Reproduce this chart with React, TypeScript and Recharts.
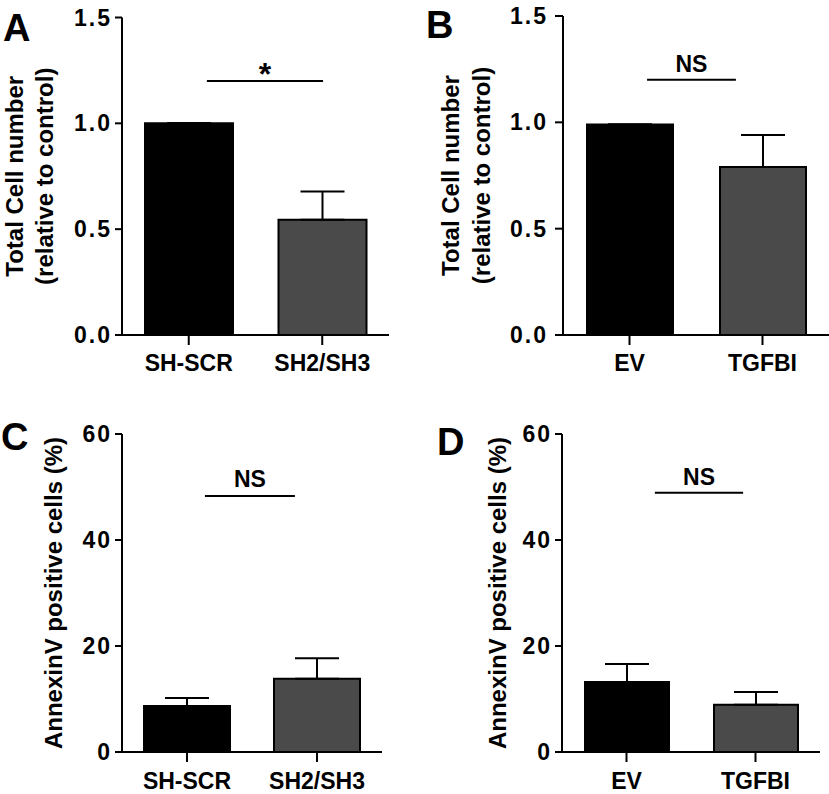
import React from "react";
import { BarChart, Bar, XAxis, YAxis, ErrorBar, Cell, ReferenceLine } from "recharts";

const FONT = '"Liberation Sans", Arial, Helvetica, sans-serif';

// categories
const knockdownGroups = ["SH-SCR", "SH2/SH3"];
const overexpGroups = ["EV", "TGFBI"];

// total cell number (relative to control), mean and upper error
const cellKnockdown = [1.0, 0.545];
const cellKnockdownErr = [0, 0.133];
const cellOverexp = [0.99, 0.79];
const cellOverexpErr = [0, 0.15];

// annexinV positive cells (%)
const annexinKnockdown = [8.7, 13.8];
const annexinKnockdownErr = [1.5, 3.9];
const annexinOverexp = [13.2, 8.9];
const annexinOverexpErr = [3.4, 2.4];

// y ticks
const cellTicks = [0, 0.5, 1.0, 1.5];
const annexinTicks = [0, 20, 40, 60];

const barColors = ["#000000", "#4a4a4a"];

const axisStroke = { stroke: "#000", strokeWidth: 2 };
const tickText = { fill: "#000", fontSize: 23, fontWeight: 700, fontFamily: FONT };

type PanelProps = {
  groups: string[];
  values: number[];
  errs: number[];
  ticks: number[];
  fmt: (v: number) => string;
  yLines: { text: string; x: number }[];
  left: number;
  top: number;
  axisX: number;
  right: number;
  plotTop: number;
  plotBottom: number;
  barSize: number;
  yTickSize: number;
  yTickMargin: number;
  xTickMargin: number;
  // significance bar, x as fraction of plot width
  sig: { x1: number; x2: number; y: number; text: string; size: number; offset: number };
};

function Panel(p: PanelProps) {
  const data = p.groups.map((name, i) => ({ name, value: p.values[i], err: [0, p.errs[i]] }));
  const width = p.right - p.left + 2;
  const height = p.plotBottom - p.top + 42;
  const cy = (p.plotTop + p.plotBottom) / 2 - p.top;

  return (
    <div style={{ position: "absolute", left: p.left, top: p.top }}>
      <BarChart
        width={width}
        height={height}
        data={data}
        margin={{ top: p.plotTop - p.top, right: 2, left: 0, bottom: 0 }}
      >
        <XAxis
          xAxisId="cat"
          dataKey="name"
          height={42}
          axisLine={axisStroke}
          tickLine={axisStroke}
          tickSize={10}
          tickMargin={p.xTickMargin}
          tick={tickText}
          interval={0}
        />
        <XAxis xAxisId="num" type="number" domain={[0, 1]} allowDataOverflow hide />
        <YAxis
          width={p.axisX - p.left}
          domain={[p.ticks[0], p.ticks[p.ticks.length - 1]]}
          ticks={p.ticks}
          interval={0}
          tickFormatter={p.fmt}
          axisLine={axisStroke}
          tickLine={axisStroke}
          tickSize={p.yTickSize}
          tickMargin={p.yTickMargin}
          tick={{ ...tickText, letterSpacing: 2 }}
          label={() => (
            <g>
              {p.yLines.map((l) => (
                <text
                  key={l.text}
                  x={l.x}
                  y={cy}
                  transform={`rotate(-90 ${l.x} ${cy})`}
                  textAnchor="middle"
                  dominantBaseline="central"
                  fill="#000"
                  fontSize={24}
                  fontWeight={700}
                  fontFamily={FONT}
                >
                  {l.text}
                </text>
              ))}
            </g>
          )}
        />
        <Bar xAxisId="cat" dataKey="value" barSize={p.barSize} stroke="#000" strokeWidth={2} isAnimationActive={false}>
          {data.map((d, i) => (
            <Cell key={d.name} fill={barColors[i]} />
          ))}
          <ErrorBar dataKey="err" direction="y" width={22} stroke="#000" strokeWidth={2} isAnimationActive={false} />
        </Bar>
        <ReferenceLine
          xAxisId="num"
          ifOverflow="visible"
          segment={[
            { x: p.sig.x1, y: p.sig.y },
            { x: p.sig.x2, y: p.sig.y },
          ]}
          stroke="#000"
          strokeWidth={2}
          label={{
            value: p.sig.text,
            position: "top",
            offset: p.sig.offset,
            fill: "#000",
            fontSize: p.sig.size,
            fontWeight: 700,
            fontFamily: FONT,
          }}
        />
      </BarChart>
    </div>
  );
}

const fmt1 = (v: number) => v.toFixed(1);
const fmt0 = (v: number) => String(v);

export default function App() {
  return (
    <div
      style={{
        position: "fixed",
        left: 0,
        top: 0,
        width: 829,
        height: 794,
        overflow: "hidden",
        background: "#fff",
      }}
    >
      <Panel
        groups={knockdownGroups}
        values={cellKnockdown}
        errs={cellKnockdownErr}
        ticks={cellTicks}
        fmt={fmt1}
        yLines={[
          { text: "Total Cell number", x: 14 },
          { text: "(relative to control)", x: 44 },
        ]}
        left={0}
        top={0}
        axisX={122}
        right={389}
        plotTop={17.5}
        plotBottom={335}
        barSize={88}
        yTickSize={7}
        yTickMargin={3}
        xTickMargin={10}
        sig={{ x1: 0.318, x2: 0.753, y: 1.2, text: "*", size: 32, offset: -4 }}
      />
      <Panel
        groups={overexpGroups}
        values={cellOverexp}
        errs={cellOverexpErr}
        ticks={cellTicks}
        fmt={fmt1}
        yLines={[
          { text: "Total Cell number", x: 40 },
          { text: "(relative to control)", x: 71 },
        ]}
        left={410}
        top={0}
        axisX={563}
        right={829}
        plotTop={16}
        plotBottom={335}
        barSize={86}
        yTickSize={8}
        yTickMargin={7}
        xTickMargin={10}
        sig={{ x1: 0.316, x2: 0.65, y: 1.2, text: "NS", size: 23, offset: 8 }}
      />
      <Panel
        groups={knockdownGroups}
        values={annexinKnockdown}
        errs={annexinKnockdownErr}
        ticks={annexinTicks}
        fmt={fmt0}
        yLines={[{ text: "AnnexinV positive cells (%)", x: 53 }]}
        left={0}
        top={400}
        axisX={122}
        right={382}
        plotTop={434}
        plotBottom={752}
        barSize={86}
        yTickSize={7}
        yTickMargin={3}
        xTickMargin={11}
        sig={{ x1: 0.319, x2: 0.665, y: 48.3, text: "NS", size: 23, offset: 9 }}
      />
      <Panel
        groups={overexpGroups}
        values={annexinOverexp}
        errs={annexinOverexpErr}
        ticks={annexinTicks}
        fmt={fmt0}
        yLines={[{ text: "AnnexinV positive cells (%)", x: 87 }]}
        left={410}
        top={400}
        axisX={562}
        right={820}
        plotTop={434}
        plotBottom={752}
        barSize={84}
        yTickSize={7}
        yTickMargin={3}
        xTickMargin={11}
        sig={{ x1: 0.36, x2: 0.702, y: 48.9, text: "NS", size: 23, offset: 8 }}
      />
      <svg
        width={829}
        height={794}
        style={{ position: "absolute", left: 0, top: 0, pointerEvents: "none" }}
      >
        <g fill="#000" fontSize={38} fontWeight={700} fontFamily={FONT}>
          <text x={3} y={41}>A</text>
          <text x={426} y={38}>B</text>
          <text x={1} y={450}>C</text>
          <text x={437} y={455}>D</text>
        </g>
      </svg>
    </div>
  );
}
